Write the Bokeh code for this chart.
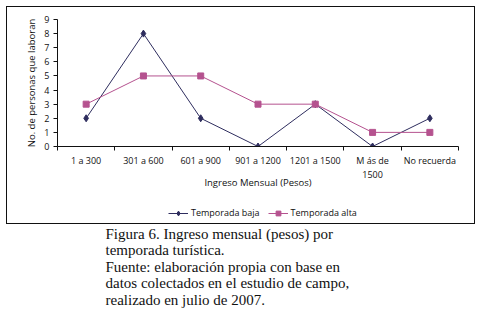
from bokeh.plotting import figure
from bokeh.models import Range1d, FixedTicker, Legend, LegendItem
from bokeh.layouts import column
from bokeh.embed import file_html
from bokeh.resources import INLINE
from bokeh.core.properties import value

categories = ["1 a 300", "301 a 600", "601 a 900", "901 a 1200", "1201 a 1500", "M ás de\n1500", "No recuerda"]
baja = [2, 8, 2, 0, 3, 0, 2]
alta = [3, 5, 5, 3, 3, 1, 1]
y_ticks = [0, 1, 2, 3, 4, 5, 6, 7, 8, 9]
series_names = ["Temporada baja", "Temporada alta"]
caption_lines = [
    "Figura 6. Ingreso mensual (pesos) por",
    "temporada turística.",
    "Fuente: elaboración propia con base en",
    "datos colectados en el estudio de campo,",
    "realizado en julio de 2007.",
]

FONT = "Open Sans"
C_BAJA = "#2E2D5E"
C_ALTA = "#B5528F"
BORDER = "1px solid #111"
MB_LEFT, MB_RIGHT = 50, 18

xs = [i + 0.5 for i in range(len(categories))]

# ---- chart ----
p = figure(width=469, height=190, output_backend="svg", toolbar_location=None,
           x_range=Range1d(0, len(categories)), y_range=Range1d(0, 9),
           min_border_left=MB_LEFT, min_border_right=MB_RIGHT, min_border_top=12, min_border_bottom=51)
p.margin = (6, 0, 0, 6)
p.styles = {"border-top": BORDER, "border-left": BORDER, "border-right": BORDER}
p.border_fill_color = None
p.background_fill_color = None
p.outline_line_color = None
p.xgrid.visible = False
p.ygrid.visible = False

p.xaxis.ticker = FixedTicker(ticks=xs, minor_ticks=list(range(len(categories) + 1)))
p.xaxis.major_label_overrides = {x: c for x, c in zip(xs, categories)}
p.xaxis.major_tick_out = 0
p.xaxis.major_tick_in = 0
p.xaxis.minor_tick_out = 4
p.xaxis.minor_tick_in = 0
p.xaxis.major_label_standoff = 3
p.xaxis.axis_label = "Ingreso Mensual (Pesos)"

p.yaxis.ticker = FixedTicker(ticks=y_ticks)
p.yaxis.minor_tick_out = 0
p.yaxis.minor_tick_in = 0
p.yaxis.major_tick_out = 4
p.yaxis.major_tick_in = 0
p.yaxis.major_label_standoff = 4
p.yaxis.axis_label = "No. de personas que laboran"

for ax in (p.xaxis, p.yaxis):
    ax.axis_line_color = "#111"
    ax.major_tick_line_color = "#111"
    ax.minor_tick_line_color = "#111"
    ax.major_label_text_font = FONT
    ax.major_label_text_font_size = "9px"
    ax.major_label_text_color = "#111"
    ax.axis_label_text_font = FONT
    ax.axis_label_text_font_size = "9.5px"
    ax.axis_label_text_font_style = "normal"
    ax.axis_label_text_color = "#111"
p.xaxis.major_label_text_line_height = 1.1
p.xaxis.axis_label_standoff = -8
p.yaxis.axis_label_standoff = 3

p.line(xs, baja, line_color=C_BAJA, line_width=1)
p.scatter(xs, baja, marker="diamond", size=7, fill_color=C_BAJA, line_color=C_BAJA)
p.line(xs, alta, line_color=C_ALTA, line_width=1)
p.scatter(xs, alta, marker="square", size=6, fill_color=C_ALTA, line_color=C_ALTA)

# ---- legend strip (inside the same border) ----
# the series are re-drawn here only to feed the legend; lg's x range keeps them off-view
lg = figure(width=469, height=28, output_backend="svg", toolbar_location=None,
            x_range=Range1d(-2, -1), y_range=Range1d(0, 9),
            x_axis_type=None, y_axis_type=None,
            min_border=0, min_border_left=MB_LEFT, min_border_right=MB_RIGHT,
            min_border_top=0, min_border_bottom=0)
lg.margin = (0, 0, 0, 6)
lg.styles = {"border-bottom": BORDER, "border-left": BORDER, "border-right": BORDER}
lg.border_fill_color = None
lg.background_fill_color = None
lg.outline_line_color = None
lg.grid.visible = False
d1 = lg.line(xs, baja, line_color=C_BAJA, line_width=1)
e1 = lg.scatter(xs, baja, marker="diamond", size=7, fill_color=C_BAJA, line_color=C_BAJA)
d2 = lg.line(xs, alta, line_color=C_ALTA, line_width=1)
e2 = lg.scatter(xs, alta, marker="square", size=6, fill_color=C_ALTA, line_color=C_ALTA)
legend = Legend(items=[LegendItem(label=series_names[0], renderers=[d1, e1]),
                       LegendItem(label=series_names[1], renderers=[d2, e2])],
                orientation="horizontal", location=(111, 5),
                padding=0, margin=0, spacing=8, label_standoff=3,
                glyph_width=20, glyph_height=12, label_height=12,
                label_text_font=FONT, label_text_font_size="9px",
                label_text_color="#111", border_line_color=None,
                background_fill_alpha=0)
lg.add_layout(legend, "center")

# ---- caption ----
cap_h = 88
cap_w = 475
c = figure(width=cap_w, height=cap_h, output_backend="svg", toolbar_location=None,
           x_range=Range1d(0, cap_w - MB_LEFT - MB_RIGHT), y_range=Range1d(cap_h, 0),
           x_axis_type=None, y_axis_type=None,
           min_border=0, min_border_left=MB_LEFT, min_border_right=MB_RIGHT,
           min_border_top=0, min_border_bottom=0)
c.grid.visible = False
c.outline_line_color = None
c.border_fill_color = None
c.background_fill_color = None
ys = [9 + 16.5 * i for i in range(len(caption_lines))]
c.text(x=[55] * len(caption_lines), y=ys, text=caption_lines,
       text_font=value("Liberation Serif"), text_font_size="15px",
       text_baseline="middle", text_align="left", text_color="#111")

layout = column(p, lg, c, spacing=0)
open("out.html", "w").write(file_html(layout, INLINE))
